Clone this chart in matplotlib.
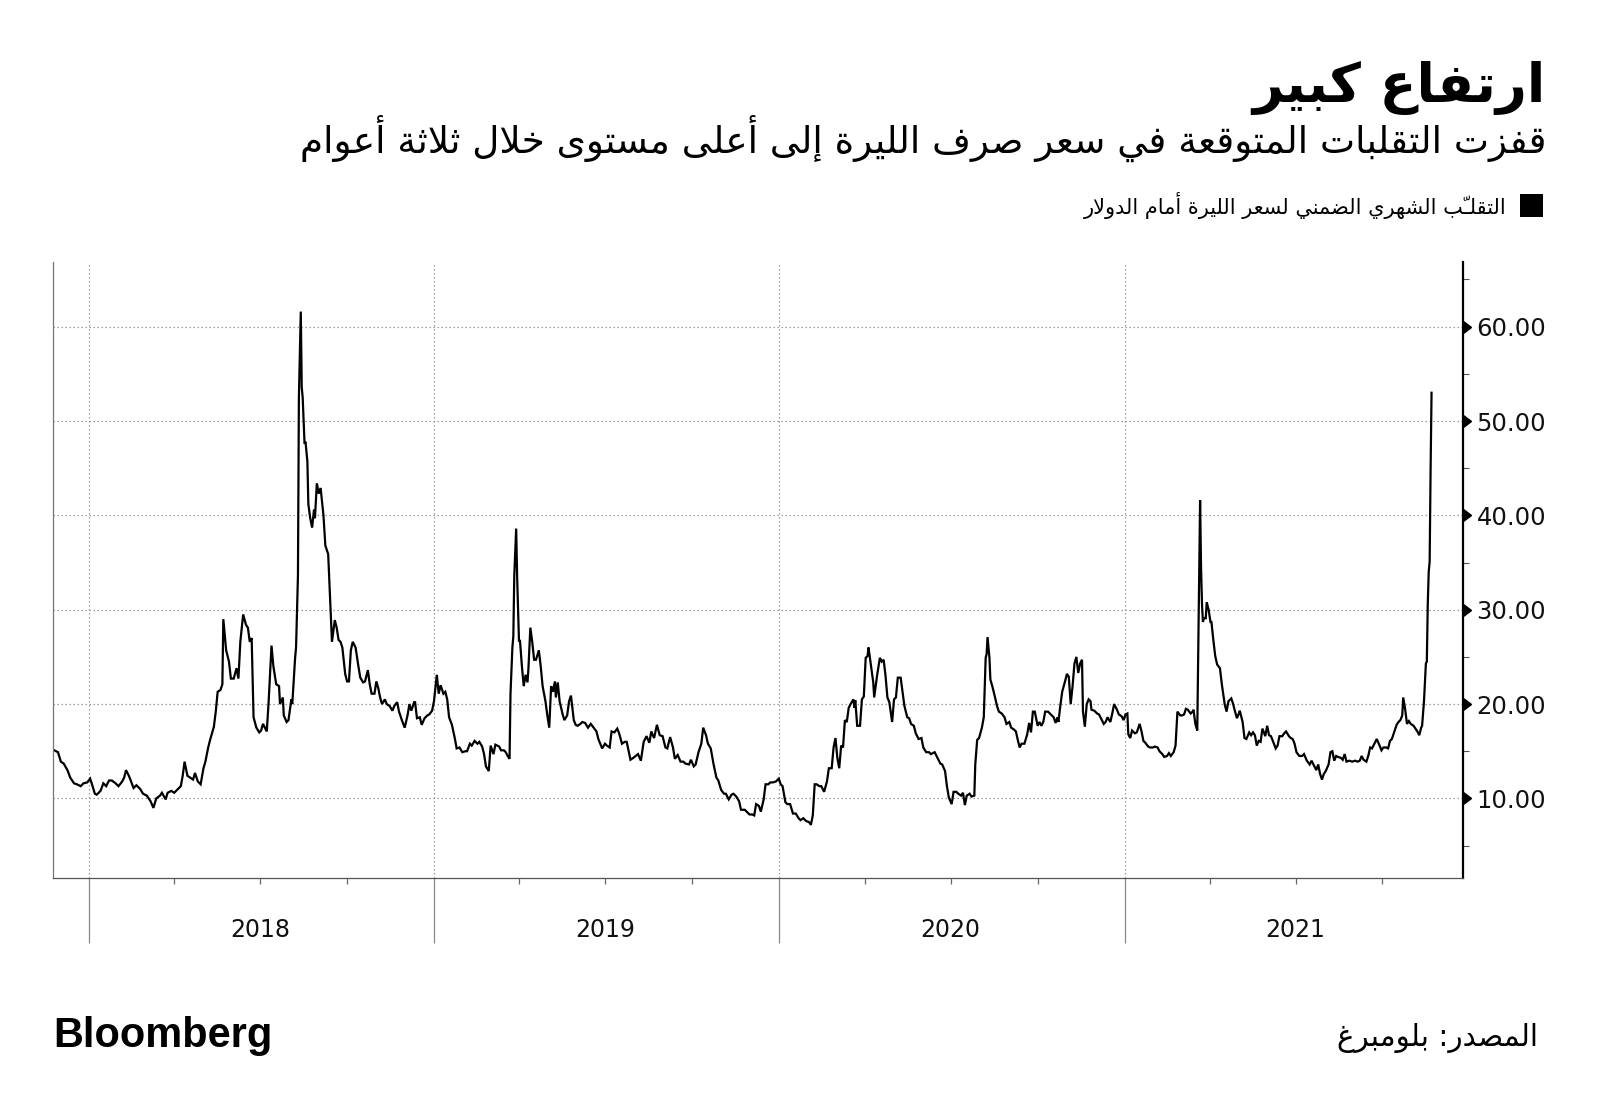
import matplotlib
matplotlib.use('Agg')
import matplotlib.pyplot as plt
import matplotlib.dates as mdates
import matplotlib.ticker as mticker
from matplotlib.markers import CARETRIGHTBASE
from matplotlib.patches import Rectangle
import pandas as pd

# Implied one-month lira volatility.
# day_offset = days since 2018-01-01
start = '2018-01-01'
day_offset = [
    -37, -33, -30, -27, -23, -20, -16, -13, -9, -6, -2, 1, 3, 6, 8, 12, 15, 18, 21, 24, 28, 31, 35, 37, 39,
    42, 44, 47, 50, 54, 57, 61, 65, 68, 71, 75, 77, 81, 83, 87, 90, 93, 97, 99, 101, 104, 107, 110, 112, 115,
    118, 121, 123, 126, 128, 132, 134, 136, 139, 141, 142, 145, 148, 150, 153, 156, 158, 160, 163, 166, 168,
    170, 172, 174, 177, 180, 182, 184, 187, 188, 190, 193, 195, 198, 201, 202, 205, 206, 209, 211, 214, 215,
    218, 219, 221, 222, 224, 225, 226, 228, 229, 231, 232, 234, 236, 238, 239, 241, 243, 245, 248, 250, 253,
    255, 257, 260, 262, 264,
    266, 268, 271, 273, 275, 277, 279, 282, 285, 287, 290, 292, 295, 297, 299, 302, 304, 306, 308, 310, 313,
    315, 318, 321, 323, 326, 328, 331, 334, 337, 339, 341, 344, 345, 347, 350, 352, 355, 358, 360, 363, 365,
    368, 370, 372, 375, 377, 379, 381, 384, 387, 389, 392, 395, 398, 400, 403, 405, 408, 411, 413, 416, 418,
    420, 423, 425, 428, 430, 434, 436, 439, 441, 443, 445, 446, 448, 449, 450, 452, 453, 455, 456, 458, 460,
    462, 464, 465, 467, 469, 471, 473, 476, 478, 480, 483, 485, 487, 489, 491, 493, 494, 496, 498, 501, 503,
    506, 508, 510, 513, 515, 517, 520, 522, 525, 528, 531, 534, 537, 539, 543, 546, 548, 551, 553, 556, 559,
    561, 564, 567,
    569, 573, 576, 581, 584, 587, 590, 593, 595, 598, 601, 604, 607, 610, 612, 615, 618, 620, 623, 626, 629,
    631, 635, 637, 640, 642, 645, 648, 650, 653, 655, 658, 661, 664, 666, 669, 672, 674, 677, 680, 682, 685,
    688, 690, 694, 696, 699, 702, 704, 706, 709, 711, 714, 716, 719, 721, 724, 727, 730, 732, 734, 737, 739,
    742, 745, 748, 751, 753, 756, 759, 762, 764, 766, 768, 770, 773, 775, 778, 781, 783, 786, 788, 790, 792,
    794, 796, 798, 800, 802, 804, 806, 809, 810, 811, 813, 816, 818, 820, 822, 824, 825, 828, 830, 831, 834,
    837, 839, 841, 843, 845, 847, 850, 852, 854, 856, 859, 861, 863, 866, 868,
    870, 873, 875, 878, 881, 883, 886, 889, 891, 895, 898, 901, 903, 906, 908, 910, 913, 915, 918, 920, 923,
    925, 927, 929, 932, 934, 937, 938, 940, 942, 945, 947, 949, 950, 951, 953, 954, 956, 958, 961, 963, 966,
    969, 971, 974, 976, 979, 981, 983, 985, 987, 990, 993, 995, 997, 999, 1001, 1004, 1006, 1008, 1010, 1012,
    1015, 1018, 1021, 1023, 1025, 1026, 1028, 1030, 1033, 1035, 1037, 1039, 1041, 1043, 1045, 1047, 1049,
    1051, 1052, 1054, 1056, 1058, 1060, 1061, 1064, 1067, 1069, 1071, 1074, 1076, 1078, 1081, 1083, 1085,
    1088, 1090, 1093, 1095, 1097, 1099, 1100, 1102, 1104, 1107, 1109, 1112, 1114, 1116, 1118, 1121, 1123,
    1126, 1128, 1131, 1133, 1136, 1138, 1141, 1143, 1145, 1148, 1150, 1151, 1152, 1155, 1157, 1159, 1161,
    1163, 1166, 1168,
    1169, 1171, 1173, 1176, 1177, 1178, 1179, 1180, 1182, 1183, 1185, 1187, 1188, 1190, 1192, 1194, 1197,
    1199, 1202, 1204, 1206, 1209, 1211, 1213, 1215, 1217, 1218, 1221, 1223, 1225, 1228, 1230, 1232, 1234,
    1236, 1238, 1240, 1242, 1245, 1247, 1249, 1251, 1253, 1256, 1258, 1260, 1263, 1265, 1267, 1270, 1272,
    1274, 1276, 1278, 1281, 1284, 1286, 1289, 1292, 1294, 1297, 1299, 1301, 1303, 1305, 1307, 1309, 1312,
    1314, 1316, 1318, 1320, 1322, 1325, 1327, 1329, 1331, 1334, 1337, 1340, 1343, 1345, 1347, 1349, 1352,
    1354, 1356, 1358, 1360, 1363, 1366, 1368, 1370, 1373, 1375, 1377, 1379, 1381, 1384, 1386, 1388, 1390,
    1391, 1393, 1395, 1397, 1399, 1402, 1404, 1406, 1408, 1410, 1411, 1413, 1415, 1416, 1417, 1418, 1419,
    1420, 1421,
]
implied_vol = [
    15.1, 14.9, 13.9, 13.7, 13.0, 12.2, 11.6, 11.5, 11.3, 11.6, 11.7, 12.1, 11.5, 10.5, 10.4, 10.8, 11.6, 11.3,
    11.9, 11.9, 11.6, 11.3, 11.8, 12.2, 13.0, 12.4, 11.9, 11.1, 11.4, 11.0, 10.5, 10.3, 9.7, 9.0, 10.0, 10.3,
    10.6, 9.9, 10.6, 10.8, 10.6, 10.9, 11.3, 12.4, 13.9, 12.4, 12.2, 12.0, 12.7, 11.8, 11.5, 13.2, 13.9, 15.4,
    16.2, 17.6, 19.2, 21.3, 21.5, 22.1, 29.0, 25.7, 24.5, 22.7, 22.7, 23.8, 22.7, 26.6, 29.5, 28.4, 28.1, 26.6,
    27.0, 18.6, 17.5, 17.0, 17.2, 17.9, 17.3, 17.1, 20.3, 26.2, 24.0, 22.1, 21.9, 20.0, 20.7, 18.8, 18.1, 18.3,
    20.5, 20.0, 24.9, 26.0, 33.6, 52.5, 61.6, 53.6, 52.5, 47.6, 47.8, 45.7, 41.2, 39.7, 38.7, 40.6, 39.7, 43.4,
    42.3, 42.9, 40.0, 36.8, 35.9, 31.3, 26.6, 28.9, 28.1, 26.8,
    26.6, 26.0, 23.2, 22.4, 22.4, 25.7, 26.6, 26.0, 24.0, 22.8, 22.3, 22.4, 23.6, 22.1, 21.1, 21.1, 22.4, 21.7,
    20.7, 20.0, 20.5, 20.0, 19.8, 19.3, 19.8, 20.2, 19.2, 18.3, 17.5, 18.8, 20.0, 19.3, 20.2, 20.2, 18.5, 18.6,
    17.8, 18.5, 18.8, 18.9, 19.3, 20.3, 23.1, 21.1, 22.0, 21.1, 21.3, 20.5, 18.6, 17.8, 16.4, 15.3, 15.4, 14.9,
    15.0, 15.0, 15.8, 15.6, 16.1, 15.8, 16.0, 15.5, 14.7, 13.4, 12.9, 15.6, 14.7, 15.7, 15.5, 15.1, 15.1, 14.9,
    14.5, 14.2, 21.1, 26.0, 27.2, 33.6, 38.6, 33.6, 26.6, 26.8, 24.1, 21.9, 23.1, 22.3, 23.8, 28.1, 26.6, 24.7,
    24.7, 25.7, 24.0, 21.9, 20.3, 18.8, 17.5, 21.9, 21.3, 22.4, 20.7, 22.3, 20.3, 19.0, 18.3, 18.8, 20.3, 20.9,
    18.3, 17.8, 17.7, 17.9, 18.1, 18.0, 17.5, 17.9, 17.5, 17.1, 16.3, 15.3, 15.8, 15.6, 15.4, 17.1, 17.0, 17.4,
    16.9, 15.8, 16.0,
    16.0, 14.1, 14.3, 14.7, 14.0, 16.0, 16.6, 15.9, 17.1, 16.4, 17.8, 16.7, 16.6, 15.4, 15.3, 16.5, 15.4, 14.2,
    14.6, 13.9, 13.9, 13.7, 13.6, 14.1, 13.4, 13.6, 14.9, 15.8, 17.5, 16.7, 15.8, 15.3, 13.6, 12.2, 11.9, 10.9,
    10.5, 10.5, 9.9, 10.4, 10.5, 10.2, 9.7, 8.8, 8.8, 8.6, 8.3, 8.3, 8.2, 9.4, 9.2, 8.6, 9.9, 11.5, 11.5, 11.7,
    11.7, 11.8, 12.1, 11.5, 11.3, 9.6, 9.4, 9.4, 8.4, 8.4, 7.9, 7.7, 7.9, 7.6, 7.5, 7.2, 8.2, 11.5, 11.5, 11.3,
    11.3, 10.7, 11.8, 13.2, 13.2, 15.4, 16.4, 14.3, 13.2, 15.6, 15.4, 18.3, 18.1, 19.6, 20.0, 20.5, 19.6, 20.4,
    17.7, 17.7, 20.5, 20.8, 24.9, 25.1, 26.0, 23.8, 22.3, 20.7, 23.0, 24.9, 24.5, 24.7, 23.0, 20.7, 20.2, 18.1,
    20.5, 20.7, 22.8, 22.8, 21.3, 19.8, 18.6, 18.5,
    17.9, 17.7, 16.9, 16.3, 16.4, 15.4, 14.9, 14.9, 14.7, 14.9, 14.3, 13.7, 13.6, 12.9, 11.3, 10.1, 9.4, 10.7,
    10.7, 10.5, 10.3, 10.6, 9.3, 10.3, 10.5, 10.2, 10.3, 13.6, 16.2, 16.4, 17.5, 18.6, 24.9, 25.3, 27.1, 24.9,
    22.6, 21.9, 21.1, 19.8, 19.2, 19.0, 18.6, 17.9, 18.1, 17.5, 17.3, 17.1, 16.2, 15.4, 15.8, 15.8, 16.8, 18.0,
    17.0, 19.2, 19.2, 17.7, 18.1, 17.7, 18.1, 19.2, 19.2, 18.9, 18.6, 18.0, 18.6, 18.1, 19.8, 21.3, 22.4, 23.2,
    22.9, 20.0, 21.9, 24.3, 25.0, 23.3, 24.3, 24.7, 19.2, 17.6, 20.0, 20.5, 20.3, 19.4, 19.3, 19.0, 18.9, 18.5,
    17.9, 18.1, 18.6, 18.1, 19.0, 20.0, 19.4, 18.9, 18.7, 18.3, 18.9, 19.0, 16.8, 16.4, 17.2, 16.9, 17.0, 17.9,
    17.1, 16.1, 15.9, 15.5, 15.4, 15.4, 15.5, 15.4, 15.0, 14.7, 14.4, 14.5, 14.8, 14.5, 14.9, 15.6, 17.3, 19.2,
    18.8, 18.8, 18.9, 19.5, 19.4, 19.0, 19.2,
    19.4, 17.9, 17.2, 41.6, 34.4, 30.6, 28.7, 29.1, 29.1, 30.8, 30.0, 28.7, 28.7, 26.8, 25.1, 24.2, 23.8, 22.1,
    20.0, 19.2, 20.3, 20.6, 20.0, 19.2, 18.5, 19.0, 19.3, 18.1, 16.4, 16.3, 17.0, 16.7, 17.0, 16.7, 15.6, 16.1,
    16.0, 17.4, 16.6, 17.7, 16.7, 16.6, 16.1, 15.3, 15.6, 16.6, 16.6, 16.9, 17.1, 16.6, 16.4, 16.3, 15.8, 14.9,
    14.5, 14.5, 14.7, 14.0, 13.6, 14.0, 13.4, 13.0, 13.6, 12.6, 12.0, 12.6, 12.9, 13.6, 14.9, 15.0, 14.0, 14.5,
    14.4, 14.3, 14.1, 14.7, 13.9, 14.0, 13.9, 14.0, 13.9, 14.0, 14.5, 14.1, 13.9, 14.5, 15.4, 15.3, 15.7, 16.3,
    15.6, 15.1, 15.4, 15.4, 15.3, 16.1, 16.3, 16.9, 17.8, 18.1, 18.3, 18.8, 20.7, 19.5, 17.9, 18.2, 17.9, 17.7,
    17.4, 17.1, 16.7, 17.5, 17.7, 20.3, 24.3, 24.5, 30.6, 34.0, 35.1, 44.9, 53.0,
]

y_major = [10, 20, 30, 40, 50, 60]
y_minor = [5, 15, 25, 35, 45, 55, 65]
years = [2018, 2019, 2020, 2021]

title = 'ارتفاع كبير'
subtitle = 'قفزت التقلبات المتوقعة في سعر صرف الليرة إلى أعلى مستوى خلال ثلاثة أعوام'
legend_label = 'التقلّب الشهري الضمني لسعر الليرة أمام الدولار'
source = 'المصدر: بلومبرغ'

# --- minimal Arabic shaping (matplotlib has no complex text layout) ---
FORMS = {
    'ء': (0xFE80, 1), 'آ': (0xFE81, 2), 'أ': (0xFE83, 2), 'ؤ': (0xFE85, 2), 'إ': (0xFE87, 2),
    'ئ': (0xFE89, 4), 'ا': (0xFE8D, 2), 'ب': (0xFE8F, 4), 'ة': (0xFE93, 2), 'ت': (0xFE95, 4),
    'ث': (0xFE99, 4), 'ج': (0xFE9D, 4), 'ح': (0xFEA1, 4), 'خ': (0xFEA5, 4), 'د': (0xFEA9, 2),
    'ذ': (0xFEAB, 2), 'ر': (0xFEAD, 2), 'ز': (0xFEAF, 2), 'س': (0xFEB1, 4), 'ش': (0xFEB5, 4),
    'ص': (0xFEB9, 4), 'ض': (0xFEBD, 4), 'ط': (0xFEC1, 4), 'ظ': (0xFEC5, 4), 'ع': (0xFEC9, 4),
    'غ': (0xFECD, 4), 'ف': (0xFED1, 4), 'ق': (0xFED5, 4), 'ك': (0xFED9, 4), 'ل': (0xFEDD, 4),
    'م': (0xFEE1, 4), 'ن': (0xFEE5, 4), 'ه': (0xFEE9, 4), 'و': (0xFEED, 2), 'ى': (0xFEEF, 2),
    'ي': (0xFEF1, 4),
}
LAM_ALEF = {'ا': 0xFEFB, 'أ': 0xFEF7, 'إ': 0xFEF9, 'آ': 0xFEF5}
SHADDA = '\u0651'


def ar(text):
    chars = list(text)
    n = len(chars)

    def neighbor(i, step):
        j = i + step
        while 0 <= j < n and chars[j] == SHADDA:
            j += step
        return chars[j] if 0 <= j < n else ''

    def joins_next(c):
        return c in FORMS and FORMS[c][1] == 4

    out = []
    i = 0
    while i < n:
        c = chars[i]
        if c == SHADDA:
            out.append('\uFE7D' if joins_next(neighbor(i, -1)) and neighbor(i, 1) in FORMS else '\uFE7C')
            i += 1
            continue
        if c not in FORMS:
            out.append(c)
            i += 1
            continue
        join_prev = joins_next(neighbor(i, -1))
        nxt = neighbor(i, 1)
        if c == 'ل' and nxt in LAM_ALEF:
            out.append(chr(LAM_ALEF[nxt] + (1 if join_prev else 0)))
            j = i + 1
            while chars[j] == SHADDA:
                j += 1
            i = j + 1
            continue
        base, nf = FORMS[c]
        join_next = nf == 4 and nxt in FORMS
        if nf == 1:
            k = 0
        elif join_prev and join_next:
            k = 3
        elif join_prev:
            k = 1
        elif join_next:
            k = 2
        else:
            k = 0
        out.append(chr(base + k))
        i += 1
    return ''.join(out)[::-1]


dates = pd.Timestamp(start) + pd.to_timedelta(day_offset, unit='D')

fig = plt.figure(figsize=(16, 11.08), dpi=100)
ax = fig.add_axes([0.0333, 0.2076, 0.8809, 0.5560])

ax.plot(dates, implied_vol, color='black', lw=1.6, solid_joinstyle='miter')

ax.set_xlim(pd.Timestamp(start) - pd.Timedelta(days=38), pd.Timestamp(start) + pd.Timedelta(days=1454))
ax.set_ylim(1.57, 66.86)

# y axis on the right
ax.yaxis.tick_right()
ax.set_yticks(y_major)
ax.set_yticks(y_minor, minor=True)
ax.yaxis.set_major_formatter(mticker.FuncFormatter(lambda v, p: f'{v:.2f}'))
ax.tick_params(axis='y', which='major', length=0, pad=10, labelsize=17.5, labelcolor='#111')
ax.tick_params(axis='y', which='minor', length=4, width=0.8, color='#555')
ax.plot([1] * len(y_major), y_major, transform=ax.get_yaxis_transform(), ls='none',
        marker=CARETRIGHTBASE, ms=8, color='black', clip_on=False)

# x axis: year ticks + quarter ticks
ax.xaxis.set_major_locator(mdates.YearLocator())
ax.xaxis.set_minor_locator(mdates.MonthLocator(bymonth=[4, 7, 10]))
ax.xaxis.set_major_formatter(mticker.NullFormatter())
ax.tick_params(axis='x', which='major', length=47, width=0.9, color='#888')
ax.tick_params(axis='x', which='minor', length=4, width=0.9, color='#666')
for yr in years:
    ax.text(pd.Timestamp(f'{yr}-07-01'), -0.085, str(yr), transform=ax.get_xaxis_transform(),
            ha='center', va='center', fontsize=17, color='#111')

ax.grid(which='major', axis='both', color='#999', lw=0.9, linestyle=(0, (1.2, 2)))
ax.set_axisbelow(True)

ax.spines['top'].set_visible(False)
ax.spines['left'].set_color('#777')
ax.spines['left'].set_linewidth(0.9)
ax.spines['bottom'].set_color('#555')
ax.spines['bottom'].set_linewidth(0.9)
ax.spines['right'].set_color('black')
ax.spines['right'].set_linewidth(1.6)

# header / footer texts
W, H = 1600, 1108
ar_font = ['DejaVu Sans']
t_title = fig.text(1546 / W, 1 - 102 / H, ar(title), ha='right', va='baseline',
                   fontsize=40, fontweight='bold', family=ar_font)
t_sub = fig.text(1546 / W, 1 - 153 / H, ar(subtitle), ha='right', va='baseline',
                 fontsize=28, family=ar_font)
t_leg = fig.text(1507 / W, 1 - 214 / H, ar(legend_label), ha='right', va='baseline',
                 fontsize=14, family=ar_font)
fig.patches.append(Rectangle((1520 / W, 1 - 217 / H), 23 / W, 23 / H, transform=fig.transFigure,
                             facecolor='black', edgecolor='none'))
t_src = fig.text(1538 / W, 1 - 1046 / H, ar(source), ha='right', va='baseline',
                 fontsize=18, family=ar_font)
t_bb = fig.text(53 / W, 1 - 1047 / H, 'Bloomberg', ha='left', va='baseline',
                fontsize=30, fontweight='bold',
                family=['Liberation Sans Narrow', 'Liberation Sans', 'DejaVu Sans'])

renderer = fig.canvas.get_renderer()
for t, w in [(t_title, 293), (t_sub, 1250), (t_leg, 426), (t_src, 201), (t_bb, 219)]:
    cur = t.get_window_extent(renderer).width
    t.set_fontsize(t.get_fontsize() * w / cur)

fig.savefig('out.png', dpi=100)
